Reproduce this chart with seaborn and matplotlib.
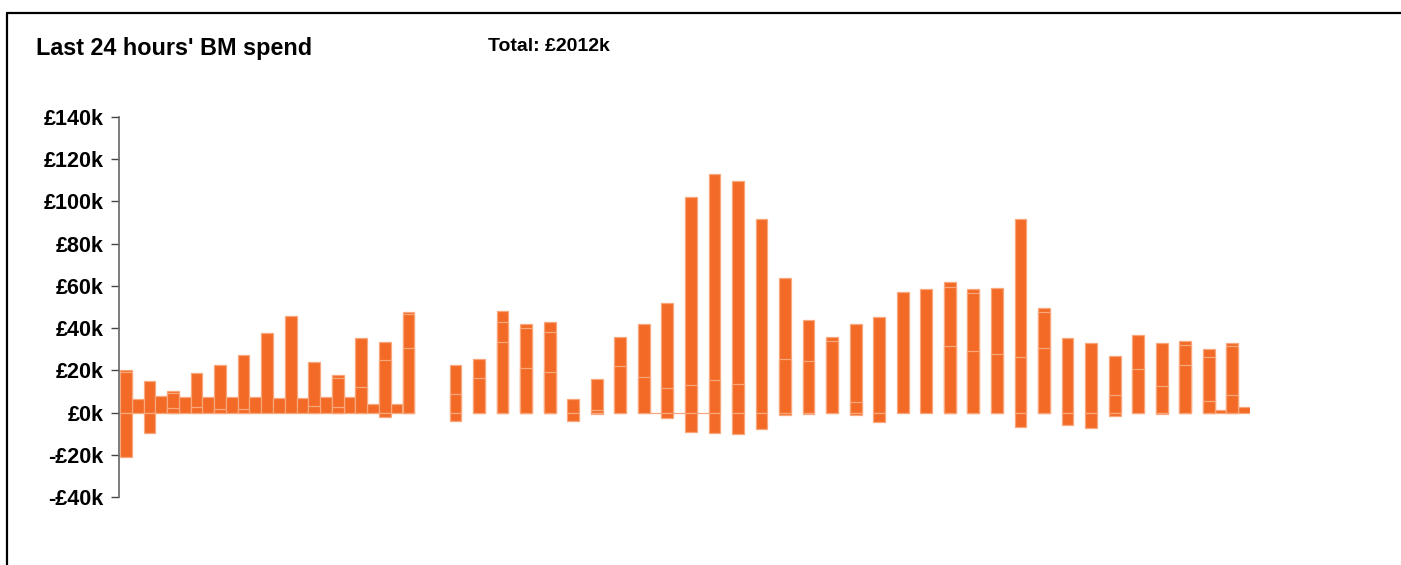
import numpy as np
import pandas as pd
import seaborn as sns
import matplotlib.pyplot as plt
from matplotlib.lines import Line2D

nan = np.nan

# half-slots over the last 24 hours (96 slots), values in £k
slots = list(range(96))

# positive spend per slot (NaN = no bar)
spend_pos = [20, 6.5, 15, 8, 10.3, 7.2, 18.8, 7.2, 22.4, 7.2,
             27.4, 7.2, 37.7, 6.8, 45.9, 6.8, 24, 7.2, 17.8, 7.2,
             35.2, 4.1, 33.4, 4.1, 47.6, nan, nan, nan, 22.6, nan,
             25.4, nan, 48.1, nan, 42, nan, 43, nan, 6.5, nan,
             15.9, nan, 35.8, nan, 42.1, 0, 51.9, 0, 102.2, 0,
             113.1, nan, 109.7, nan, 91.6, nan, 63.9, nan, 43.7, nan,
             35.6, nan, 42.1, nan, 45.5, nan, 57.2, nan, 58.7, nan,
             62, nan, 58.5, nan, 59, nan, 91.6, nan, 49.3, nan,
             35.3, nan, 32.8, nan, 27, nan, 36.9, nan, 33, nan,
             33.9, nan, 30.3, 1.4, 33, 2.5]

# negative spend per slot
spend_neg = [nan] * 96
for i, v in {0: -21, 2: -9.5, 22: -2, 28: -4.1, 38: -3.8, 40: -0.6,
             46: -2.4, 48: -9.3, 50: -9.9, 52: -10.1, 54: -8, 56: -1.3,
             58: -0.6, 62: -1, 64: -4.7, 76: -6.8, 80: -5.7, 82: -7.3,
             84: -1.4, 88: -0.8}.items():
    spend_neg[i] = v

# cumulative levels of the stacked components inside the bars
split_lo = [nan] * 96
for i, v in {4: 2, 6: 2.4, 8: 1.9, 10: 1.9, 16: 3, 18: 2.5, 20: 12.3,
             22: 25, 24: 30.7, 28: 8.8, 30: 16.4, 32: 33.4, 34: 21.1,
             36: 19, 40: 1.3, 42: 22, 44: 16.9, 46: 11.7, 48: 13.1,
             50: 15.6, 52: 13.6, 56: 25.5, 58: 24.4, 60: 33.7, 62: 5,
             70: 31.4, 72: 29.3, 74: 27.9, 76: 26.3, 78: 30.6, 84: 8.4,
             86: 20.7, 88: 12.6, 90: 22.6, 92: 5.5, 94: 8.4}.items():
    split_lo[i] = v

split_hi = [nan] * 96
for i, v in {0: 19, 4: 9.5, 18: 16.5, 24: 46.8, 32: 42.9, 34: 40,
             36: 38.2, 70: 59.5, 72: 56.6, 78: 47.6, 90: 32, 92: 26.3,
             94: 31.3}.items():
    split_hi[i] = v

yticks = [-40, -20, 0, 20, 40, 60, 80, 100, 120, 140]
ytick_labels = ['-£40k', '-£20k', '£0k', '£20k', '£40k', '£60k',
                '£80k', '£100k', '£120k', '£140k']

df = pd.DataFrame({'slot': slots, 'pos': spend_pos, 'neg': spend_neg,
                   'lo': split_lo, 'hi': split_hi})

sns.set_style('white')
plt.rcParams['font.family'] = ['Liberation Sans', 'DejaVu Sans']
plt.rcParams['font.weight'] = 'bold'
plt.rcParams['text.color'] = 'black'
plt.rcParams['ytick.color'] = '#444444'
plt.rcParams['ytick.labelcolor'] = 'black'

orange = '#F26A25'
edge = '#F8A77C'

fig = plt.figure(figsize=(14.01, 5.65), dpi=100)
ax = fig.add_axes([120 / 1401, 68 / 565, 1130 / 1401, 380 / 565])

# draw layers so the component borders show as faint lines
for col in ['pos', 'hi', 'lo', 'neg']:
    sns.barplot(data=df, x='slot', y=col, order=slots, color=orange,
                saturation=1, width=1.0, errorbar=None, edgecolor=edge,
                linewidth=0.9, ax=ax)

ax.set_xlim(-0.5, 95.5)
ax.set_ylim(-40, 140)
ax.set_xticks([])
ax.set_xlabel('')
ax.set_ylabel('')
ax.set_yticks(yticks, ytick_labels)
ax.tick_params(axis='y', left=True, length=6, width=1, pad=5,
               labelsize=15.5, labelcolor='black')
for lbl in ax.get_yticklabels():
    lbl.set_fontweight('bold')
for s in ['top', 'right', 'bottom']:
    ax.spines[s].set_visible(False)
ax.spines['left'].set_color('#666666')
ax.spines['left'].set_linewidth(1.2)
ax.spines['left'].set_position(('outward', 1))

fig.text(36 / 1401, 1 - 55 / 565, "Last 24 hours' BM spend", fontsize=16.8,
         fontweight='bold', ha='left', va='baseline', color='black')
fig.text(488 / 1401, 1 - 51 / 565, 'Total: £2012k', fontsize=14,
         fontweight='bold', ha='left', va='baseline', color='black')

# panel frame lines (top and left)
fig.add_artist(Line2D([7 / 1401, 1], [1 - 13 / 565, 1 - 13 / 565],
                      transform=fig.transFigure, color='black', lw=1.6))
fig.add_artist(Line2D([7 / 1401, 7 / 1401], [0, 1 - 13 / 565],
                      transform=fig.transFigure, color='black', lw=1.6))

fig.savefig('out.png', dpi=100, facecolor='white')
